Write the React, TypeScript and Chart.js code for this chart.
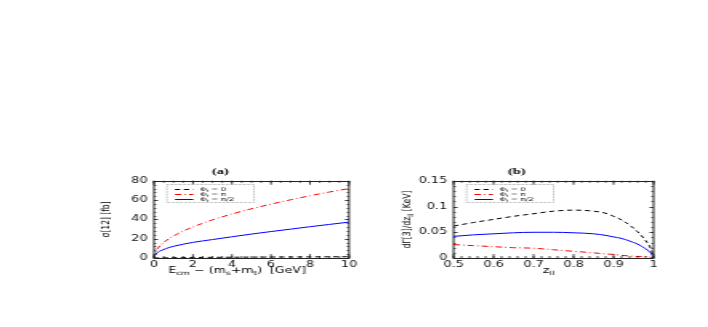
import React, { useEffect, useRef } from "react";
import { Chart, registerables } from "chart.js";

Chart.register(...registerables);

// ---------- Panel (a) data ----------
const energyGeV = [0, 0.02, 0.05, 0.1, 0.2, 0.4, 0.6, 0.8, 1, 1.5, 2, 2.5, 3, 4, 5, 6, 7, 8, 9, 10];
const sigmaPhi0 = [0, 0.05, 0.08, 0.1, 0.15, 0.2, 0.25, 0.3, 0.35, 0.45, 0.55, 0.62, 0.7, 0.82, 0.93, 1.02, 1.1, 1.18, 1.25, 1.3];
const sigmaPhiPi = [0, 3.2, 5.1, 7.2, 10.2, 14.4, 17.6, 20.4, 22.8, 27.9, 32.2, 36, 39.5, 45.6, 51, 55.8, 60.3, 64.5, 68.4, 72];
const sigmaPhiPiHalf = [0, 2.0, 3.0, 4.2, 6.0, 8.0, 9.6, 11.0, 12.1, 14.3, 16.2, 17.7, 19.1, 22.0, 24.8, 27.4, 29.9, 32.4, 34.8, 37.2];
const energyTicks = [0, 2, 4, 6, 8, 10];
const sigmaTicks = [0, 20, 40, 60, 80];

// ---------- Panel (b) data ----------
const zll = [0.5, 0.55, 0.6, 0.65, 0.7, 0.75, 0.8, 0.85, 0.88, 0.9, 0.92, 0.94, 0.96, 0.97, 0.98, 0.99, 0.995, 1];
const dGammaPhi0 = [0.062, 0.069, 0.075, 0.081, 0.086, 0.091, 0.093, 0.091, 0.087, 0.081, 0.074, 0.064, 0.051, 0.043, 0.034, 0.023, 0.015, 0];
const dGammaPhiPi = [0.026, 0.024, 0.022, 0.02, 0.019, 0.016, 0.013, 0.01, 0.008, 0.007, 0.005, 0.004, 0.003, 0.003, 0.003, 0.002, 0.001, 0];
const dGammaPhiPiHalf = [0.042, 0.045, 0.047, 0.049, 0.05, 0.05, 0.049, 0.047, 0.044, 0.041, 0.038, 0.033, 0.027, 0.023, 0.018, 0.012, 0.008, 0];
const zTicks = [0.5, 0.6, 0.7, 0.8, 0.9, 1];
const dGammaTicks = [0, 0.05, 0.1, 0.15];

const legendLabels = ["Φ_t = 0", "Φ_t = π", "Φ_t = π/2"];
const seriesColors = ["#000000", "#ff0000", "#0000ff"];
const seriesDashes: number[][] = [[3.2, 2.4], [4, 2, 0.8, 2], []];

const FONT = "'DejaVu Sans', sans-serif";
const STRETCH = 1.6; // the whole figure is drawn horizontally stretched

type Seg = { t: string; sub: boolean };
function parseRich(s: string): Seg[] {
  const out: Seg[] = [];
  let i = 0;
  let buf = "";
  while (i < s.length) {
    if (s[i] === "_") {
      if (buf) {
        out.push({ t: buf, sub: false });
        buf = "";
      }
      if (s[i + 1] === "{") {
        const j = s.indexOf("}", i + 2);
        out.push({ t: s.slice(i + 2, j), sub: true });
        i = j + 1;
      } else {
        out.push({ t: s[i + 1], sub: true });
        i += 2;
      }
    } else {
      buf += s[i];
      i++;
    }
  }
  if (buf) out.push({ t: buf, sub: false });
  return out;
}

function drawRich(
  ctx: CanvasRenderingContext2D,
  text: string,
  x: number,
  y: number,
  size: number,
  align: "left" | "center",
  opts: { scaleX?: number; targetW?: number; rotate?: boolean }
) {
  const segs = parseRich(text);
  const subSize = size * 0.72;
  const fN = `${size}px ${FONT}`;
  const fS = `${subSize}px ${FONT}`;
  let w = 0;
  const widths: number[] = [];
  for (const s of segs) {
    ctx.font = s.sub ? fS : fN;
    const mw = ctx.measureText(s.t).width;
    widths.push(mw);
    w += mw;
  }
  const sx = opts.targetW ? opts.targetW / w : opts.scaleX ?? 1;
  ctx.save();
  ctx.translate(x, y);
  if (opts.rotate) ctx.rotate(-Math.PI / 2);
  ctx.scale(sx, 1);
  ctx.textBaseline = "middle";
  ctx.textAlign = "left";
  ctx.fillStyle = "#000";
  let cx = align === "center" ? -w / 2 : 0;
  segs.forEach((s, k) => {
    ctx.font = s.sub ? fS : fN;
    ctx.fillText(s.t, cx, s.sub ? size * 0.32 : 0);
    cx += widths[k];
  });
  ctx.restore();
}

const physFrame = {
  id: "physFrame",
  afterDatasetsDraw(chart: any, _args: any, o: any) {
    const ctx: CanvasRenderingContext2D = chart.ctx;
    const a = chart.chartArea;
    const xs = chart.scales.x;
    const ys = chart.scales.y;
    ctx.save();
    ctx.strokeStyle = "#222";
    ctx.lineWidth = 1;
    ctx.setLineDash([]);
    ctx.strokeRect(a.left, Math.round(a.top) + 0.5, a.right - a.left, Math.round(a.bottom - a.top));
    const tickX = (v: number, len: number) => {
      const p = xs.getPixelForValue(v);
      ctx.beginPath();
      ctx.moveTo(p, a.bottom);
      ctx.lineTo(p, a.bottom - len);
      ctx.moveTo(p, a.top);
      ctx.lineTo(p, a.top + len);
      ctx.stroke();
    };
    const tickY = (v: number, len: number) => {
      const p = Math.round(ys.getPixelForValue(v)) + 0.5;
      ctx.beginPath();
      ctx.moveTo(a.left, p);
      ctx.lineTo(a.left + len, p);
      ctx.moveTo(a.right, p);
      ctx.lineTo(a.right - len, p);
      ctx.stroke();
    };
    ctx.lineWidth = 0.8;
    for (let i = 0; ; i++) {
      const v = xs.min + i * o.minorX;
      if (v > xs.max + 1e-9) break;
      tickX(v, 2);
    }
    for (let i = 0; ; i++) {
      const v = ys.min + i * o.minorY;
      if (v > ys.max + 1e-9) break;
      tickY(v, 1.4);
    }
    xs.ticks.forEach((t: any) => tickX(t.value, 4));
    ys.ticks.forEach((t: any) => tickY(t.value, 2.6));

    // legend box
    const bx = a.left + 13 / STRETCH;
    const by = a.top + 3.5;
    const bw = 87 / STRETCH;
    const bh = 18;
    ctx.lineWidth = 1;
    ctx.strokeStyle = "#aaa";
    ctx.setLineDash([0.8, 0.8]);
    ctx.strokeRect(bx, Math.round(by) + 0.5, bw, bh);
    chart.data.datasets.forEach((ds: any, i: number) => {
      const ry = Math.round(by + 4.5 + i * 5.3) + 0.5;
      ctx.save();
      ctx.strokeStyle = ds.borderColor;
      ctx.lineWidth = 1;
      ctx.setLineDash(ds.borderDash || []);
      ctx.beginPath();
      ctx.moveTo(bx + 5, ry);
      ctx.lineTo(bx + 16.5, ry);
      ctx.stroke();
      ctx.restore();
      drawRich(ctx, ds.label, bx + 20.5, ry, 5.2, "left", {});
    });

    // axis titles
    drawRich(ctx, o.xTitle, (a.left + a.right) / 2 + o.xTitleShift, a.bottom + 13, 8, "center", o.xTitleW ? { targetW: o.xTitleW } : {});
    drawRich(ctx, o.yTitle, a.left - o.yTitleOffset, (a.top + a.bottom) / 2, 7, "center", { targetW: o.yTitleW, rotate: true });
    ctx.restore();
  },
};

type PanelDef = {
  title: string;
  xs: number[];
  series: number[][];
  xMin: number;
  xMax: number;
  yMin: number;
  yMax: number;
  xTicks: number[];
  yTicks: number[];
  minorX: number;
  minorY: number;
  xTitle: string;
  yTitle: string;
  xTitleW: number;
  xTitleShift: number;
  yTitleW: number;
  yTitleOffset: number;
  yAxisW: number;
  padRight: number;
};

function makeConfig(p: PanelDef): any {
  return {
    type: "line",
    data: {
      datasets: p.series.map((vals, k) => ({
        label: legendLabels[k],
        data: p.xs.map((x, i) => ({ x, y: vals[i] })),
        borderColor: seriesColors[k],
        borderDash: seriesDashes[k],
        borderWidth: 1,
        pointRadius: 0,
        cubicInterpolationMode: "monotone",
        fill: false,
      })),
    },
    options: {
      responsive: false,
      animation: false,
      events: [],
      layout: { padding: { left: 0, right: p.padRight, top: 0, bottom: 0 } },
      plugins: {
        legend: { display: false },
        tooltip: { enabled: false },
        title: {
          display: true,
          text: p.title,
          color: "#000",
          font: { family: "'Liberation Serif', serif", size: 9, weight: "bold" },
          padding: { top: 7, bottom: 4 },
        },
        physFrame: {
          minorX: p.minorX,
          minorY: p.minorY,
          xTitle: p.xTitle,
          yTitle: p.yTitle,
          xTitleW: p.xTitleW,
          xTitleShift: p.xTitleShift,
          yTitleW: p.yTitleW,
          yTitleOffset: p.yTitleOffset,
        },
      },
      scales: {
        x: {
          type: "linear",
          min: p.xMin,
          max: p.xMax,
          afterBuildTicks: (s: any) => {
            s.ticks = p.xTicks.map((v) => ({ value: v }));
          },
          afterFit: (s: any) => {
            s.height = 28;
          },
          grid: { display: false, drawTicks: false },
          border: { display: false },
          ticks: {
            color: "#111",
            font: { family: FONT, size: 8 },
            padding: 2,
            maxRotation: 0,
            autoSkip: false,
            callback: (v: any) => String(v),
          },
        },
        y: {
          type: "linear",
          min: p.yMin,
          max: p.yMax,
          afterBuildTicks: (s: any) => {
            s.ticks = p.yTicks.map((v) => ({ value: v }));
          },
          afterFit: (s: any) => {
            s.width = p.yAxisW;
          },
          grid: { display: false, drawTicks: false },
          border: { display: false },
          ticks: {
            color: "#111",
            font: { family: FONT, size: 8 },
            padding: 4,
            autoSkip: false,
            callback: (v: any) => String(v),
          },
        },
      },
    },
    plugins: [physFrame],
  };
}

const panelA: PanelDef = {
  title: "(a)",
  xs: energyGeV,
  series: [sigmaPhi0, sigmaPhiPi, sigmaPhiPiHalf],
  xMin: 0,
  xMax: 10,
  yMin: 0,
  yMax: 80,
  xTicks: energyTicks,
  yTicks: sigmaTicks,
  minorX: 0.5,
  minorY: 4,
  xTitle: "E_{cm} − (m_s+m_t)  [GeV]",
  yTitle: "σ[12] [fb]",
  xTitleW: 86,
  xTitleShift: -9,
  yTitleW: 36,
  yTitleOffset: 30,
  yAxisW: 40,
  padRight: 6,
};

const panelB: PanelDef = {
  title: "(b)",
  xs: zll,
  series: [dGammaPhi0, dGammaPhiPi, dGammaPhiPiHalf],
  xMin: 0.5,
  xMax: 1,
  yMin: 0,
  yMax: 0.15,
  xTicks: zTicks,
  yTicks: dGammaTicks,
  minorX: 0.02,
  minorY: 0.01,
  xTitle: "z_{ll}",
  yTitle: "dΓ[3]/dz_{ll} [KeV]",
  xTitleW: 0,
  xTitleShift: -3,
  yTitleW: 58,
  yTitleOffset: 28.5,
  yAxisW: 46,
  padRight: 5,
};

function Panel({ def, left, top, width, height }: { def: PanelDef; left: number; top: number; width: number; height: number }) {
  const ref = useRef<HTMLCanvasElement | null>(null);
  useEffect(() => {
    if (!ref.current) return;
    const chart = new Chart(ref.current, makeConfig(def));
    return () => chart.destroy();
  }, [def]);
  return (
    <div
      style={{
        position: "absolute",
        left,
        top,
        width,
        height,
        transform: `scaleX(${STRETCH})`,
        transformOrigin: "0 0",
      }}
    >
      <canvas ref={ref} width={width} height={height} style={{ display: "block", width, height }} />
    </div>
  );
}

export default function App() {
  return (
    <div style={{ position: "absolute", left: 0, top: 0, width: 708, height: 327, background: "#fff", overflow: "hidden" }}>
      <Panel def={panelA} left={90} top={159} width={169} height={127} />
      <Panel def={panelB} left={380} top={159} width={176} height={127} />
    </div>
  );
}
